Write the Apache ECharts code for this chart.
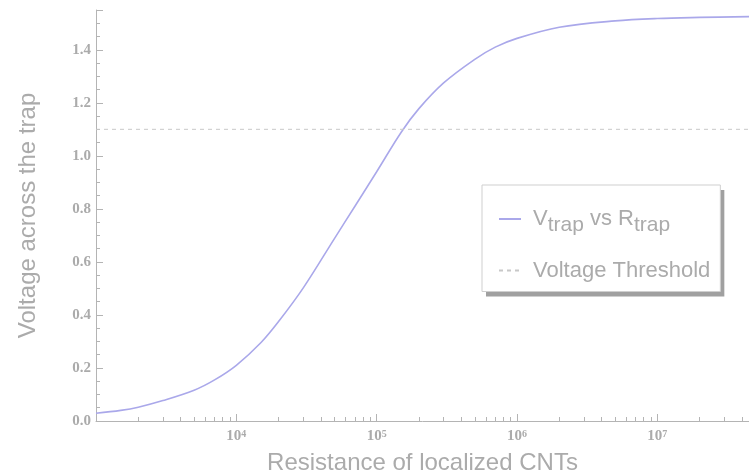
<!DOCTYPE html>
<html>
<head>
<meta charset="utf-8">
<script src="https://cdn.jsdelivr.net/npm/echarts@6/dist/echarts.min.js"></script>
<style>
  html, body { margin: 0; padding: 0; background: #fff; }
  #chart { width: 749px; height: 474px; }
</style>
</head>
<body>
<div id="chart"></div>
<script>
// resistance of localized CNTs (ohm) and voltage across the trap (V)
var resistance = [1e3, 1.5e3, 2e3, 3e3, 5e3, 7e3, 1e4, 1.5e4, 2e4, 3e4, 5e4, 7e4,
  1e5, 1.5e5, 2e5, 3e5, 5e5, 7e5, 1e6, 2e6, 5e6, 1e7, 2e7, 4.5e7];
var voltage = [0.029, 0.04, 0.052, 0.077, 0.116, 0.155, 0.21, 0.296, 0.375, 0.502, 0.688, 0.81,
  0.94, 1.09, 1.178, 1.275, 1.364, 1.41, 1.443, 1.485, 1.509, 1.518, 1.522, 1.525];
var thresholdX = [1e3, 4.5e7];
var thresholdY = [1.1, 1.1];
var legendNames = ["Vtrap", "Voltage Threshold"];

var xMin = 1e3, xMax = 4.5e7;
var yMin = 0, yMax = 1.55, yStep = 0.2;

var grey = "#b4b4b4";
var labelGrey = "#ababab";
var sans = "Liberation Sans, Arial, sans-serif";
var serif = "Liberation Serif, serif";

// minor ticks at 2..9 x 10^n, put on a helper axis in log10 units
var minorTicks = [];
for (var k = 3; k <= 7; k++) {
  for (var m = 2; m <= 9; m++) {
    var v = m * Math.pow(10, k);
    if (v < xMax) minorTicks.push(Math.log10(v));
  }
}

var curveData = resistance.map(function (r, i) { return [r, voltage[i]]; });
var thresholdData = thresholdX.map(function (r, i) { return [r, thresholdY[i]]; });

// two legends at the same spot: the lower one only gives the hard drop shadow,
// the upper one the thin frame and the content
function makeLegend(shadow) {
  var txt = shadow ? "rgba(0,0,0,0)" : labelGrey;
  return {
    orient: "vertical",
    left: 482,
    top: 185,
    z: shadow ? 3 : 4,
    padding: [23, 10, 10, 16],
    itemGap: 24,
    itemWidth: 22,
    itemHeight: 14,
    backgroundColor: shadow ? "#fff" : "transparent",
    borderColor: "#cfcfcf",
    borderWidth: shadow ? 0 : 1,
    shadowColor: shadow ? "#a0a0a0" : "transparent",
    shadowBlur: 0,
    shadowOffsetX: shadow ? 4 : 0,
    shadowOffsetY: shadow ? 5 : 0,
    data: legendNames,
    itemStyle: { opacity: 0 },
    lineStyle: shadow ? { opacity: 0 } : {},
    formatter: function (name) {
      if (name === "Vtrap") return "V{sub|trap} vs R{sub|trap}";
      return name;
    },
    textStyle: {
      color: txt,
      fontFamily: sans,
      fontSize: 22,
      padding: [0, 0, 0, 7],
      rich: {
        sub: { color: txt, fontFamily: sans, fontSize: 21, padding: [12, 0, 0, 0] }
      }
    }
  };
}

var chart = echarts.init(document.getElementById("chart"));
var option = {
  animation: false,
  backgroundColor: "#fff",
  grid: { left: 96, right: 0, top: 10, bottom: 53, outerBoundsMode: "none" },
  legend: [makeLegend(true), makeLegend(false)],
  xAxis: [
    {
      type: "log",
      logBase: 10,
      min: xMin,
      max: xMax,
      name: "Resistance of localized CNTs",
      nameLocation: "middle",
      nameGap: 30,
      nameTextStyle: { color: labelGrey, fontSize: 24, fontFamily: sans },
      axisLine: { lineStyle: { color: grey, width: 1 } },
      axisTick: { inside: true, length: 7, lineStyle: { color: grey } },
      splitLine: { show: false },
      axisLabel: {
        showMinLabel: false,
        showMaxLabel: false,
        margin: 8,
        formatter: function (v) {
          if (v < 5e3 || v > 2e7) return "";
          return "{b|10}{s|" + Math.round(Math.log10(v)) + "}";
        },
        rich: {
          b: { color: labelGrey, fontFamily: serif, fontWeight: "bold", fontSize: 15 },
          s: { color: labelGrey, fontFamily: serif, fontWeight: "bold", fontSize: 10, verticalAlign: "top" }
        }
      }
    },
    {
      type: "value",
      min: Math.log10(xMin),
      max: Math.log10(xMax),
      position: "bottom",
      axisLine: { show: false },
      axisLabel: { show: false },
      splitLine: { show: false },
      axisTick: { inside: true, length: 4, lineStyle: { color: grey }, customValues: minorTicks }
    }
  ],
  yAxis: {
    type: "value",
    min: yMin,
    max: yMax,
    interval: yStep,
    name: "Voltage across the trap",
    nameLocation: "middle",
    nameGap: 56,
    nameTextStyle: { color: labelGrey, fontSize: 24, fontFamily: sans },
    axisLine: { show: true, lineStyle: { color: grey, width: 1 } },
    axisTick: { show: true, inside: true, length: 7, lineStyle: { color: grey } },
    minorTick: { show: true, splitNumber: 4, length: 4, lineStyle: { color: grey } },
    splitLine: { show: false },
    axisLabel: {
      showMaxLabel: false,
      margin: 5,
      color: labelGrey,
      fontFamily: serif,
      fontWeight: "bold",
      fontSize: 15,
      formatter: function (v) { return v.toFixed(1); }
    }
  },
  series: [
    {
      name: "Vtrap",
      type: "line",
      xAxisIndex: 0,
      data: curveData,
      smooth: 0.35,
      symbol: "none",
      lineStyle: { color: "#aaa8ea", width: 1.6 },
      itemStyle: { color: "#aaa8ea" }
    },
    {
      name: "Voltage Threshold",
      type: "line",
      xAxisIndex: 0,
      data: thresholdData,
      symbol: "none",
      lineStyle: { color: "#c8c8c8", width: 1, type: [4, 4] },
      itemStyle: { color: "#c8c8c8" }
    }
  ]
};
chart.setOption(option);
</script>
</body>
</html>
